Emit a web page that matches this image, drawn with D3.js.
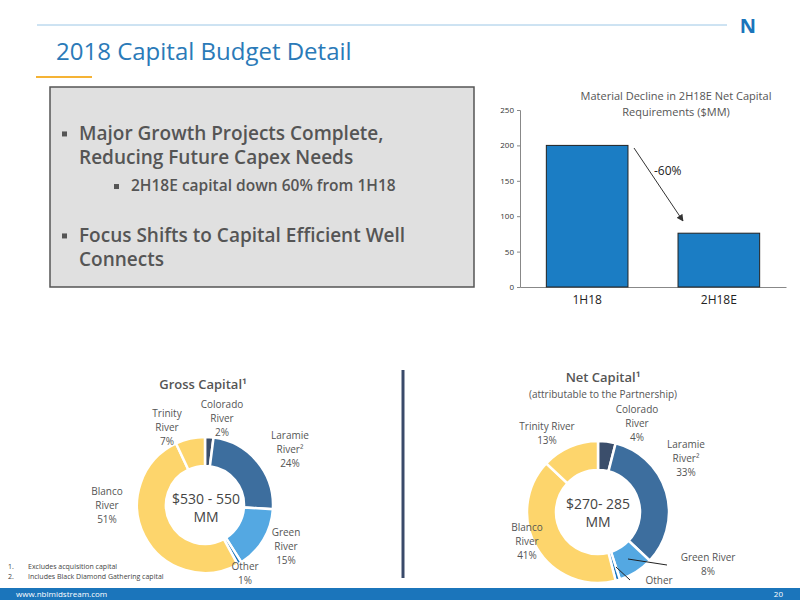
<!DOCTYPE html>
<html lang="en">
<head>
<meta charset="UTF-8">
<title>2018 Capital Budget Detail</title>
<script src="https://d3js.org/d3.v7.min.js"></script>
<style>
  body { margin: 0; background: #fff; }
  text { font-family: "Open Sans", sans-serif; }
</style>
</head>
<body>
<script>
// bar chart data
const periods = ["1H18", "2H18E"];
const netCapital = [200, 76];
const yTicks = [0, 50, 100, 150, 200, 250];

// donut data
const segments = ["Colorado", "Laramie", "Green", "Other", "Blanco", "Trinity"];
const grossShare = [2, 24, 15, 1, 51, 7];
const netShare = [4, 33, 8, 1, 41, 13];
const segColors = ["#3b4e6b", "#3d6e9e", "#54a8e2", "#1b75bb", "#fdd56c", "#fdd56c"];

const svg = d3.select("body").append("svg").attr("width", 800).attr("height", 600);

// header
svg.append("line").attr("x1", 37).attr("x2", 727).attr("y1", 25).attr("y2", 25)
  .attr("stroke", "#9cc7e6").attr("stroke-width", 1);
svg.append("text").attr("x", 748).attr("y", 33).attr("text-anchor", "middle")
  .attr("font-size", 20).attr("font-weight", "bold").attr("fill", "#1b75bb").text("N");
svg.append("text").attr("x", 56).attr("y", 60).attr("font-size", 24).attr("fill", "#2a7ab8")
  .text("2018 Capital Budget Detail");
svg.append("line").attr("x1", 36).attr("x2", 92).attr("y1", 77).attr("y2", 77)
  .attr("stroke", "#f5b335").attr("stroke-width", 2);

// grey box with bullets
svg.append("rect").attr("x", 50).attr("y", 87).attr("width", 424).attr("height", 200)
  .attr("fill", "#e0e0e0").attr("stroke", "#555").attr("stroke-width", 1.5);
const bullets = [
  { x: 62, y: 140, size: 19, lines: ["Major Growth Projects Complete,", "Reducing Future Capex Needs"] },
  { x: 114, y: 191, size: 15.5, lines: ["2H18E capital down 60% from 1H18"] },
  { x: 62, y: 242, size: 19, lines: ["Focus Shifts to Capital Efficient Well", "Connects"] }
];
bullets.forEach(b => {
  svg.append("rect").attr("x", b.x).attr("y", b.y - b.size * 0.45).attr("width", 5).attr("height", 5).attr("fill", "#555");
  b.lines.forEach((l, i) => {
    svg.append("text").attr("x", b.x + 17).attr("y", b.y + i * 24).attr("font-size", b.size)
      .attr("font-weight", 600).attr("fill", "#555").text(l);
  });
});

// bar chart
const x = d3.scaleBand().domain(periods).range([520, 786]).paddingInner(0.38).paddingOuter(0.2);
const y = d3.scaleLinear().domain([0, 250]).range([287, 110]);
const bc = svg.append("g");
bc.append("g").attr("transform", "translate(520,0)")
  .call(d3.axisLeft(y).tickValues(yTicks).tickSize(3))
  .call(g => g.selectAll("text").attr("font-family", "Liberation Sans").attr("font-size", 8).attr("fill", "#333"))
  .call(g => g.selectAll("line,path").attr("stroke", "#888"));
bc.append("g").attr("transform", "translate(0,287)")
  .call(d3.axisBottom(x).tickSize(0).tickPadding(8))
  .call(g => g.selectAll("text").attr("font-family", "Liberation Sans").attr("font-size", 12).attr("fill", "#222"))
  .call(g => g.select("path").attr("stroke", "#888"));
bc.selectAll(".bar").data(periods).enter().append("rect")
  .attr("x", d => x(d)).attr("width", x.bandwidth())
  .attr("y", (d, i) => y(netCapital[i])).attr("height", (d, i) => 287 - y(netCapital[i]))
  .attr("fill", "#1b7dc4").attr("stroke", "#222").attr("stroke-width", 1);
svg.append("defs").append("marker").attr("id", "ah").attr("viewBox", "0 0 10 10")
  .attr("refX", 9).attr("refY", 5).attr("markerWidth", 7).attr("markerHeight", 7).attr("orient", "auto")
  .append("path").attr("d", "M0,0L10,5L0,10z").attr("fill", "#333");
bc.append("line").attr("x1", 634).attr("y1", 148).attr("x2", 683).attr("y2", 221)
  .attr("stroke", "#333").attr("stroke-width", 1).attr("marker-end", "url(#ah)");
bc.append("text").attr("x", 654).attr("y", 175).attr("font-family", "Liberation Sans").attr("font-size", 12)
  .attr("fill", "#222").text("-60%");
[["Material Decline in 2H18E Net Capital", 100], ["Requirements ($MM)", 116]].forEach(([t, yy]) =>
  svg.append("text").attr("x", 676).attr("y", yy).attr("text-anchor", "middle").attr("font-size", 11)
    .attr("fill", "#555").text(t));

// separator
svg.append("line").attr("x1", 403).attr("x2", 403).attr("y1", 370).attr("y2", 578)
  .attr("stroke", "#3a4a6a").attr("stroke-width", 3);

// donuts
function donut(cx, cy, ro, ri, values) {
  const pie = d3.pie().sort(null).value(d => d)(values);
  const arc = d3.arc().innerRadius(ri).outerRadius(ro);
  svg.append("g").attr("transform", `translate(${cx},${cy})`)
    .selectAll("path").data(pie).enter().append("path")
    .attr("d", arc).attr("fill", (d, i) => segColors[i]).attr("stroke", "#fff").attr("stroke-width", 2.5);
}
donut(205, 505, 68, 39, grossShare);
donut(598, 512, 71, 42, netShare);

function label(xx, yy, lines, opts = {}) {
  lines.forEach((l, i) => {
    svg.append("text").attr("x", xx).attr("y", yy + i * (opts.lh || 14)).attr("text-anchor", "middle")
      .attr("font-size", opts.size || 10).attr("font-weight", opts.weight || 400)
      .attr("fill", opts.fill || "#555").text(l);
  });
}
label(203, 389, ["Gross Capital¹"], { size: 13, weight: 600 });
label(222, 408, ["Colorado", "River", "2%"]);
label(167, 417, ["Trinity", "River", "7%"]);
label(290, 439, ["Laramie", "River²", "24%"]);
label(107, 495, ["Blanco", "River", "51%"]);
label(206, 504, ["$530 - 550", "MM"], { size: 14, lh: 18, fill: "#444" });
label(286, 536, ["Green", "River", "15%"]);
label(245, 570, ["Other", "1%"]);

label(603, 382, ["Net Capital¹"], { size: 13, weight: 600 });
label(603, 398, ["(attributable to the Partnership)"]);
label(637, 413, ["Colorado", "River", "4%"]);
label(547, 430, ["Trinity River", "13%"]);
label(686, 448, ["Laramie", "River²", "33%"]);
label(598, 509, ["$270- 285", "MM"], { size: 14, lh: 18, fill: "#444" });
label(527, 531, ["Blanco", "River", "41%"]);
label(708, 561, ["Green River", "8%"]);
label(659, 584, ["Other"]);
svg.append("line").attr("x1", 628).attr("y1", 559).attr("x2", 667).attr("y2", 565).attr("stroke", "#222");
svg.append("line").attr("x1", 616).attr("y1", 567).attr("x2", 630).attr("y2", 580).attr("stroke", "#222");

// footnotes
[["1.", "Excludes acquisition capital", 569], ["2.", "Includes Black Diamond Gathering capital", 579]].forEach(([n, t, yy]) => {
  svg.append("text").attr("x", 8).attr("y", yy).attr("font-size", 7).attr("fill", "#444").text(n);
  svg.append("text").attr("x", 28).attr("y", yy).attr("font-size", 7).attr("fill", "#444").text(t);
});

// footer
svg.append("rect").attr("x", 0).attr("y", 588).attr("width", 800).attr("height", 12).attr("fill", "#1b75bb");
svg.append("text").attr("x", 16).attr("y", 597).attr("font-size", 8).attr("fill", "#fff").text("www.nblmidstream.com");
svg.append("text").attr("x", 783).attr("y", 597).attr("text-anchor", "end").attr("font-size", 8).attr("fill", "#fff").text("20");
</script>
</body>
</html>
